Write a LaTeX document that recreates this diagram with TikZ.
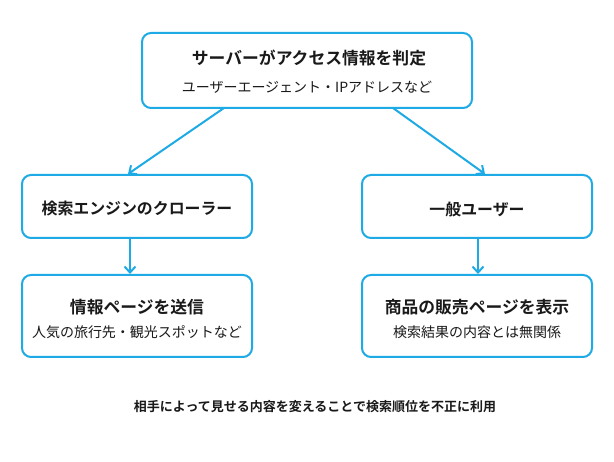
\documentclass[tikz,border=0pt]{standalone}
\usepackage{fontspec}
\setmainfont{Noto Sans CJK JP}
\newfontfamily\jpbold{Noto Sans CJK JP Bold}
\usetikzlibrary{arrows.meta}
\definecolor{lineblue}{RGB}{30,170,228}
\definecolor{txt}{RGB}{25,25,25}
\tikzset{
  box/.style={draw=lineblue, line width=2pt, rounded corners=9pt, fill=white},
  conn/.style={draw=lineblue, line width=2pt, -{Straight Barb[length=6pt,width=11pt,line width=2pt]}},
  ttl/.style={text=txt, font=\jpbold\fontsize{16.8}{18}\selectfont, inner sep=0pt},
  ttlm/.style={text=txt, font=\jpbold\fontsize{15.9}{18}\selectfont, inner sep=0pt},
  sub/.style={text=txt, font=\fontsize{14}{16}\selectfont, inner sep=0pt},
  note/.style={text=txt, font=\jpbold\fontsize{13}{15}\selectfont, inner sep=0pt}
}
\begin{document}
\begin{tikzpicture}[x=1pt,y=-1pt]
\useasboundingbox (0,0) rectangle (614,462);
\fill[white] (0,0) rectangle (614,462);
% boxes
\node[inner sep=0pt, minimum width=330pt, minimum height=75pt, box] (top) at (307,70.5) {};
\coordinate (topL) at (224,108);
\coordinate (topR) at (393,108);
\node[inner sep=0pt, minimum width=230pt, minimum height=63pt, box] (crawler) at (137,206.5) {};
\node[inner sep=0pt, minimum width=230pt, minimum height=63pt, box] (user) at (477,206.5) {};
\node[inner sep=0pt, minimum width=230pt, minimum height=82pt, box] (info) at (137,316) {};
\node[inner sep=0pt, minimum width=230pt, minimum height=82pt, box] (shop) at (477,316) {};
% texts
\node[ttl] (t1) at (309,58) {サーバーがアクセス情報を判定};
\node[sub] (s1) at (307,87) {ユーザーエージェント・IPアドレスなど};
\node[ttlm] (t2) at (137,209) {検索エンジンのクローラー};
\node[ttlm] (t3) at (477,209) {一般ユーザー};
\node[ttl] (t4) at (137,307) {情報ページを送信};
\node[sub] (s4) at (137,332) {人気の旅行先・観光スポットなど};
\node[ttl] (t5) at (477,307) {商品の販売ページを表示};
\node[sub] (s5) at (477,332) {検索結果の内容とは無関係};
\node[note] (n) at (315,407) {相手によって見せる内容を変えることで検索順位を不正に利用};
% connectors
\draw[conn] (topL) -- (128,174);
\draw[conn] (topR) -- (485,174);
\draw[conn] (crawler.south -| 130,0) -- (info.north -| 130,0);
\draw[conn] (user.south -| 478,0) -- (shop.north -| 478,0);
\end{tikzpicture}
\end{document}
